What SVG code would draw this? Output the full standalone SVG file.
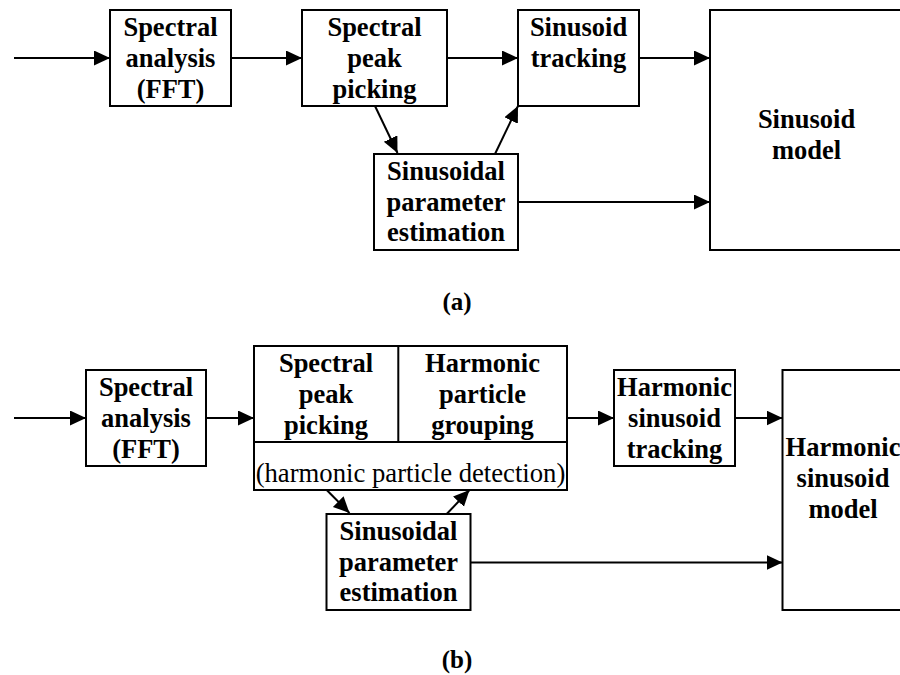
<svg xmlns="http://www.w3.org/2000/svg" width="900" height="675" viewBox="0 0 900 675">
<defs>
<marker id="ah" markerUnits="userSpaceOnUse" markerWidth="17" markerHeight="16" refX="16" refY="7.5" orient="auto">
<path d="M0,0 L16,7.5 L0,15 z" fill="#000"/>
</marker>
</defs>
<style>
rect{fill:#fff;stroke:#000;stroke-width:2}
.div{stroke:#000;stroke-width:2;fill:none}
.c line{stroke:#000;stroke-width:2;marker-end:url(#ah)}
text{font-family:"Liberation Serif","Times New Roman",serif;font-size:26.5px;font-weight:bold;text-anchor:middle;fill:#000}
.reg{font-weight:normal;font-size:26.7px}
.cap{font-size:25px}
</style>
<rect width="900" height="675" style="fill:#fff;stroke:none"/>

<!-- (a) -->
<g id="a_fft">
<rect x="110" y="10" width="121" height="96"/>
<text x="170.5" y="36">Spectral</text>
<text x="170.5" y="67">analysis</text>
<text x="170.5" y="98">(FFT)</text>
</g>
<g id="a_peak">
<rect x="302" y="10" width="145" height="96"/>
<text x="374.5" y="36">Spectral</text>
<text x="374.5" y="67">peak</text>
<text x="374.5" y="98">picking</text>
</g>
<g id="a_track">
<rect x="518" y="10" width="121" height="96"/>
<text x="578.5" y="36">Sinusoid</text>
<text x="578.5" y="67">tracking</text>
</g>
<g id="a_model">
<rect x="710" y="10" width="193" height="240"/>
<text x="806.5" y="128">Sinusoid</text>
<text x="806.5" y="159">model</text>
</g>
<g id="a_est">
<rect x="374" y="154" width="144" height="96"/>
<text x="446" y="180">Sinusoidal</text>
<text x="446" y="210.5">parameter</text>
<text x="446" y="241">estimation</text>
</g>
<g id="a_label"><text class="cap" x="457" y="310">(a)</text></g>

<!-- (b) -->
<g id="b_fft">
<rect x="86" y="370" width="120" height="96"/>
<text x="146" y="396">Spectral</text>
<text x="146" y="427">analysis</text>
<text x="146" y="458">(FFT)</text>
</g>
<g id="b_detect">
<rect x="254" y="346" width="313" height="144"/>
<path class="div" d="M254,442 H567 M398.3,346 V442"/>
<text x="326" y="372">Spectral</text>
<text x="326" y="403">peak</text>
<text x="326" y="434">picking</text>
<text x="482.5" y="372">Harmonic</text>
<text x="482.5" y="403">particle</text>
<text x="482.5" y="434">grouping</text>
<text class="reg" x="410.5" y="481.5">(harmonic particle detection)</text>
</g>
<g id="b_track">
<rect x="614" y="370" width="121" height="96"/>
<text x="674.5" y="396">Harmonic</text>
<text x="674.5" y="427">sinusoid</text>
<text x="674.5" y="458">tracking</text>
</g>
<g id="b_model">
<rect x="782.5" y="370" width="121" height="240"/>
<text x="843" y="456">Harmonic</text>
<text x="843" y="487">sinusoid</text>
<text x="843" y="518">model</text>
</g>
<g id="b_est">
<rect x="326.5" y="514" width="144" height="96"/>
<text x="398.5" y="540">Sinusoidal</text>
<text x="398.5" y="570.5">parameter</text>
<text x="398.5" y="601">estimation</text>
</g>
<g id="b_label"><text class="cap" x="457" y="668">(b)</text></g>

<g id="connectors" class="c">
<line x1="14" y1="58" x2="110" y2="58"/>
<line x1="231" y1="58" x2="302" y2="58"/>
<line x1="447" y1="58" x2="518" y2="58"/>
<line x1="639" y1="58" x2="710" y2="58"/>
<line x1="375" y1="106" x2="397.5" y2="153"/>
<line x1="495" y1="154" x2="518" y2="106"/>
<line x1="518" y1="202" x2="710" y2="202"/>

<line x1="14" y1="418" x2="86" y2="418"/>
<line x1="206" y1="418" x2="254" y2="418"/>
<line x1="567" y1="418" x2="614" y2="418"/>
<line x1="735" y1="418" x2="782.5" y2="418"/>
<line x1="326.7" y1="490" x2="349.5" y2="513"/>
<line x1="446.7" y1="514" x2="469.5" y2="490"/>
<line x1="470.5" y1="562.5" x2="782.5" y2="562.5"/>
</g>
</svg>
